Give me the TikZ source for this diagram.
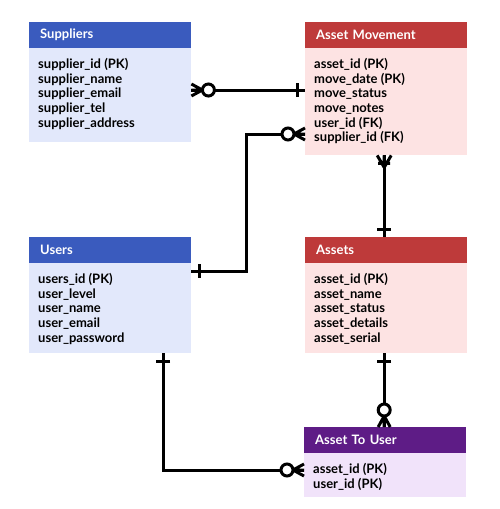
\documentclass[tikz,border=0pt]{standalone}
\usepackage{fontspec}
\setmainfont{Lato}
\definecolor{supblue}{HTML}{3A5BBE}
\definecolor{supbody}{HTML}{E2E8FB}
\definecolor{movred}{HTML}{BE3A3A}
\definecolor{movbody}{HTML}{FDE3E3}
\definecolor{atupurple}{HTML}{5E1C86}
\definecolor{atubody}{HTML}{F1E3FA}
\tikzset{
  hdr/.style={anchor=north west, text=white, font=\bfseries\fontsize{13}{15}\selectfont, text width=140pt, inner xsep=11pt, inner ysep=0pt, minimum height=26pt, align=left},
  tbl/.style={anchor=north west, minimum width=162pt, inner sep=0pt},
  fields/.style={anchor=north west, font=\bfseries\fontsize{13}{14.7}\selectfont, align=left, inner sep=0pt},
  rel/.style={line width=3pt},
  zmany/.pic={\draw[rel] (0,6) -- (11,0) (0,-6) -- (11,0) (0,0) -- (11,0); \draw[rel,fill=white] (17,0) circle (6pt);},
  onemany/.pic={\draw[rel] (0,7) -- (12,0) (0,-7) -- (12,0) (0,0) -- (12,0) (8,-6) -- (8,6);},
  one/.pic={\draw[rel] (8,-7) -- (8,7);}
}
\begin{document}
\begin{tikzpicture}[x=1pt,y=-1pt]
\useasboundingbox (0,0) rectangle (500,509);
\node[hdr, fill=supblue] (sup) at (29,22) {Suppliers};
\node[tbl, fill=supbody, minimum height=94pt] (supb) at (29,48) {};
\node[fields] (supf) at ([xshift=9pt,yshift=-10pt]supb.north west) {supplier\_id (PK)\\supplier\_name\\supplier\_email\\supplier\_tel\\supplier\_address};
\node[hdr, fill=movred] (mov) at (305,22) {Asset Movement};
\node[tbl, fill=movbody, minimum height=107pt] (movb) at (305,48) {};
\node[fields] (movf) at ([xshift=9pt,yshift=-10pt]movb.north west) {asset\_id (PK)\\move\_date (PK)\\move\_status\\move\_notes\\user\_id (FK)\\supplier\_id (FK)};
\node[hdr, fill=supblue] (usr) at (29,237) {Users};
\node[tbl, fill=supbody, minimum height=90pt] (usrb) at (29,263) {};
\node[fields] (usrf) at ([xshift=9pt,yshift=-10pt]usrb.north west) {users\_id (PK)\\user\_level\\user\_name\\user\_email\\user\_password};
\node[hdr, fill=movred] (ast) at (305,237) {Assets};
\node[tbl, fill=movbody, minimum height=90pt] (astb) at (305,263) {};
\node[fields] (astf) at ([xshift=9pt,yshift=-10pt]astb.north west) {asset\_id (PK)\\asset\_name\\asset\_status\\asset\_details\\asset\_serial};
\node[hdr, fill=atupurple] (atu) at (304,427) {Asset To User};
\node[tbl, fill=atubody, minimum height=44pt] (atub) at (304,453) {};
\node[fields] (atuf) at ([xshift=9pt,yshift=-10pt]atub.north west) {asset\_id (PK)\\user\_id (PK)};
\draw[rel] ([yshift=-42pt]supb.north east) -- ([yshift=-42pt]movb.north west);
\draw[rel] ([yshift=-8pt]usrb.north east) -- ++(55,0) |- ([yshift=-86pt]movb.north west);
\draw[rel] ([xshift=-2pt]movb.south) -- ([xshift=-2pt]ast.north);
\draw[rel] ([xshift=-2pt]astb.south) -- ([xshift=-1pt]atu.north);
\draw[rel] ([xshift=53pt]usrb.south) |- ([yshift=-17pt]atub.north west);
\pic at ([yshift=-42pt]supb.north east) {zmany};
\pic[rotate=180] at ([yshift=-42pt]movb.north west) {one};
\pic at ([yshift=-8pt]usrb.north east) {one};
\pic[rotate=180] at ([yshift=-86pt]movb.north west) {zmany};
\pic[rotate=-90] at ([xshift=-2pt]movb.south) {onemany};
\pic[rotate=90] at ([xshift=-2pt]ast.north) {one};
\pic[rotate=-90] at ([xshift=-2pt]astb.south) {one};
\pic[rotate=90] at ([xshift=-1pt]atu.north) {zmany};
\pic[rotate=-90] at ([xshift=53pt]usrb.south) {one};
\pic[rotate=180] at ([yshift=-17pt]atub.north west) {zmany};
\end{tikzpicture}
\end{document}
